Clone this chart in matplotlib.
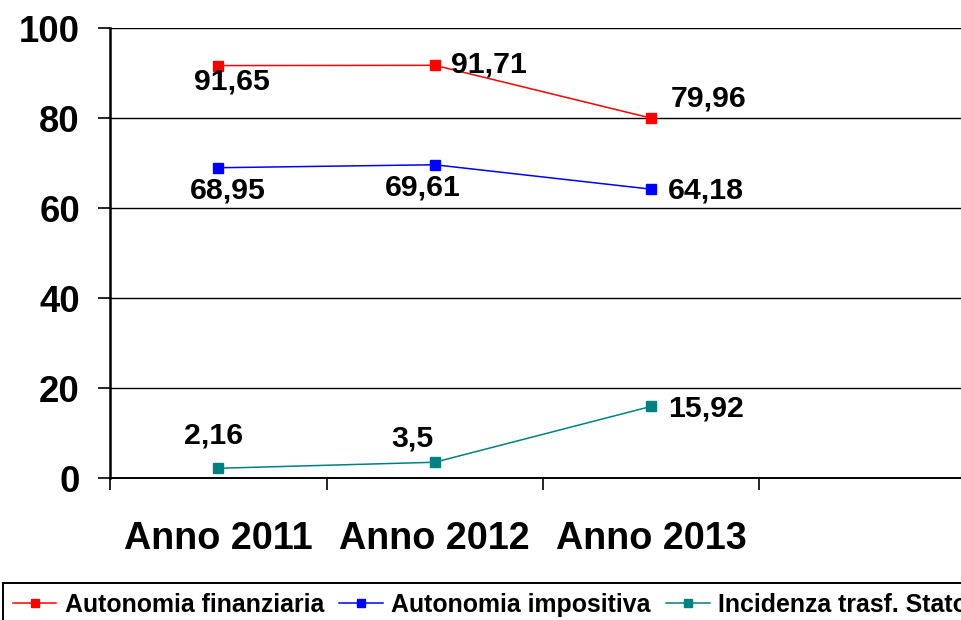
import numpy as np
import matplotlib
matplotlib.use("Agg")
import matplotlib.pyplot as plt
from matplotlib.ticker import FixedLocator

plt.rcParams['font.family'] = ['Liberation Sans', 'DejaVu Sans']
plt.rcParams['font.weight'] = 'bold'

# data
anni = ["Anno 2011", "Anno 2012", "Anno 2013"]
serie = ["Autonomia finanziaria", "Autonomia impositiva", "Incidenza trasf. Stato"]
fin = [91.65, 91.71, 79.96]
imp = [68.95, 69.61, 64.18]
trasf = [2.16, 3.5, 15.92]
etichette = [["91,65", "91,71", "79,96"],
             ["68,95", "69,61", "64,18"],
             ["2,16", "3,5", "15,92"]]
colori = ["#ff0000", "#0000ff", "#008080"]

# label offsets in pixels (dx, dy, ha)
offs = [[(14, -16, 'center'), (16, 1, 'left'), (19, 20, 'left')],
        [(10, -23, 'center'), (-12, -23, 'center'), (17, -1, 'left')],
        [(-5, 33, 'center'), (-22, 24, 'center'), (17, -2, 'left')]]

fig = plt.figure(figsize=(9.61, 6.2), dpi=100)
ax = fig.add_axes([110/961, 142/620, 866/961, 450/620])

x = np.arange(len(anni))
valori = [fin, imp, trasf]
for i, v in enumerate(valori):
    ax.plot(x, v, color=colori[i], lw=1.1, marker='s', ms=6.5,
            mec=colori[i], mfc=colori[i], label=serie[i], clip_on=False, zorder=3)
    for j, val in enumerate(v):
        dx, dy, ha = offs[i][j]
        ax.annotate(etichette[i][j], (x[j], val), xytext=(dx, dy),
                    textcoords='offset pixels', ha=ha, va='center',
                    fontsize=21.8, fontweight='bold', color='black', zorder=4)

ax.set_xlim(-0.5, 3.5)
ax.set_ylim(0, 100)
ax.set_yticks([0, 20, 40, 60, 80, 100])
ax.yaxis.grid(True, color='black', lw=1.0)
ax.set_axisbelow(True)

ax.set_xticks(x)
ax.set_xticklabels(anni)
ax.xaxis.set_minor_locator(FixedLocator([-0.5, 0.5, 1.5, 2.5, 3.5]))
ax.tick_params(axis='x', which='major', length=0, pad=31, labelsize=27.2)
ax.tick_params(axis='x', which='minor', length=8.6, width=1.2, direction='out')
ax.tick_params(axis='y', length=8.6, width=1.2, direction='out', pad=13, labelsize=26.3)
for lab in ax.get_xticklabels() + ax.get_yticklabels():
    lab.set_fontweight('bold')

ax.spines['top'].set_visible(False)
ax.spines['right'].set_visible(False)
ax.spines['left'].set_linewidth(1.8)
ax.spines['bottom'].set_linewidth(1.4)

# legend runs past the right edge, as in the original
leg = fig.legend(loc='upper left', bbox_to_anchor=(3/961, 1 - 583/620), ncol=3,
                 frameon=True, fancybox=False, edgecolor='black', framealpha=1,
                 prop={'size': 17.9, 'weight': 'bold'}, handlelength=1.75,
                 handletextpad=0.33, columnspacing=0.62, borderpad=0.4,
                 markerscale=0.85, borderaxespad=0)
leg.get_frame().set_linewidth(1.4)

fig.savefig("out.png", dpi=100)
